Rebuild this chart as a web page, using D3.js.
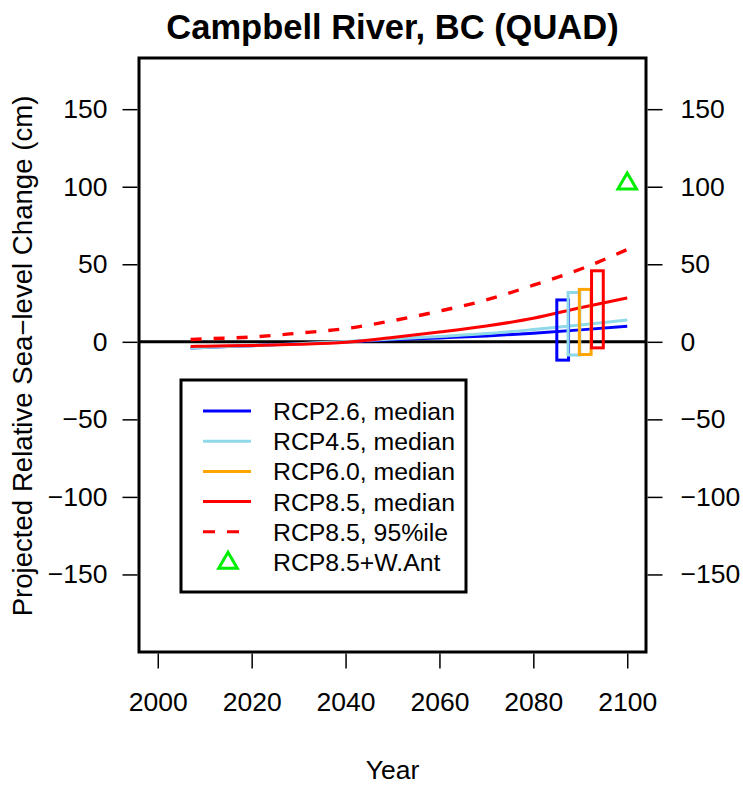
<!DOCTYPE html>
<html>
<head>
<meta charset="utf-8">
<script src="https://cdn.jsdelivr.net/npm/d3@7"></script>
<style>
  html, body { margin: 0; padding: 0; background: #fff; }
  svg { display: block; }
  text { font-family: "Liberation Sans", Arial, Helvetica, sans-serif; fill: #000; }
</style>
</head>
<body>
<script>
// ---- data ----
const title = "Campbell River, BC (QUAD)";
const xLabel = "Year";
const yLabel = "Projected Relative Sea\u2212level Change (cm)";
const xTicks = [2000, 2020, 2040, 2060, 2080, 2100];
const yTicks = [-150, -100, -50, 0, 50, 100, 150];
const years    = [2007, 2010, 2020, 2030, 2040, 2050, 2060, 2070, 2080, 2090, 2100];
const rcp26    = [-4.0, -3.6, -2.5, -1.3, 0.0, 1.3, 2.5, 3.8, 5.6, 7.7, 10.0];
const rcp45    = [-4.0, -3.6, -2.6, -1.2, 0.2, 1.8, 3.5, 5.3, 7.9, 10.8, 14.0];
const rcp85    = [-3.0, -2.8, -2.4, -1.6, -0.3, 2.8, 6.3, 10.2, 15.2, 22.0, 28.3];
const rcp85p95 = [1.5, 1.9, 3.1, 5.6, 8.5, 13.6, 19.8, 27.0, 36.5, 46.8, 59.5];
// 2100 range boxes
const boxScen  = ["RCP2.6", "RCP4.5", "RCP6.0", "RCP8.5"];
const boxX0    = [2085.0, 2087.4, 2089.8, 2092.4];
const boxX1    = [2087.5, 2089.9, 2092.3, 2094.9];
const boxLow   = [-11.8, -8.5, -8.2, -3.9];
const boxHigh  = [27.0, 31.8, 33.8, 45.8];
const wantYear = [2100];
const wantVal  = [102];
const legendLabels = ["RCP2.6, median", "RCP4.5, median", "RCP6.0, median", "RCP8.5, median", "RCP8.5, 95%ile", "RCP8.5+W.Ant"];
const colors = {"RCP2.6": "#0000FF", "RCP4.5": "#8FD9E9", "RCP6.0": "#FFA500", "RCP8.5": "#FF0000", "WAnt": "#00EE00"};

// ---- layout ----
const W = 743, H = 785;
const L = 139, R = 646, T = 58, B = 652;
const svg = d3.select("body").append("svg").attr("width", W).attr("height", H);

const x = d3.scaleLinear().domain([1996, 2104]).range([L, R]);
const y = d3.scaleLinear().domain([-200, 183]).range([B, T]);

// title
svg.append("text").attr("x", (L + R) / 2).attr("y", 39).attr("text-anchor", "middle")
  .style("font-size", "34.5px").style("font-weight", "bold").text(title);

// clip
svg.append("clipPath").attr("id", "clip").append("rect")
  .attr("x", L).attr("y", T).attr("width", R - L).attr("height", B - T);
const plot = svg.append("g").attr("clip-path", "url(#clip)");

// zero line
plot.append("line").attr("x1", L).attr("x2", R).attr("y1", y(0)).attr("y2", y(0))
  .attr("stroke", "#000").attr("stroke-width", 3);

const line = d3.line().x(d => x(d[0])).y(d => y(d[1])).curve(d3.curveMonotoneX);
function series(vals) { return years.map((yr, i) => [yr, vals[i]]); }

plot.append("path").attr("d", line(series(rcp26))).attr("fill", "none")
  .attr("stroke", colors["RCP2.6"]).attr("stroke-width", 3);
plot.append("path").attr("d", line(series(rcp45))).attr("fill", "none")
  .attr("stroke", colors["RCP4.5"]).attr("stroke-width", 3);
plot.append("path").attr("d", line(series(rcp85))).attr("fill", "none")
  .attr("stroke", colors["RCP8.5"]).attr("stroke-width", 3);
plot.append("path").attr("d", line(series(rcp85p95))).attr("fill", "none")
  .attr("stroke", colors["RCP8.5"]).attr("stroke-width", 3.4).attr("stroke-dasharray", "11,12");

// boxes
boxScen.forEach((s, i) => {
  plot.append("rect")
    .attr("x", x(boxX0[i])).attr("width", x(boxX1[i]) - x(boxX0[i]))
    .attr("y", y(boxHigh[i])).attr("height", y(boxLow[i]) - y(boxHigh[i]))
    .attr("fill", "none").attr("stroke", colors[s]).attr("stroke-width", 3);
});

// triangle
const tri = d3.symbol().type(d3.symbolTriangle).size(150);
plot.append("path").attr("d", tri())
  .attr("transform", `translate(${x(wantYear[0])},${y(wantVal[0])})`)
  .attr("fill", "none").attr("stroke", colors.WAnt).attr("stroke-width", 3);

// frame
svg.append("rect").attr("x", L).attr("y", T).attr("width", R - L).attr("height", B - T)
  .attr("fill", "none").attr("stroke", "#000").attr("stroke-width", 3);

// axes
const fmt = d => d < 0 ? "\u2212" + Math.abs(d) : String(d);
const axL = svg.append("g").attr("transform", `translate(${L - 1.5},0)`)
  .call(d3.axisLeft(y).tickValues(yTicks).tickSize(15).tickPadding(15).tickFormat(fmt));
const axR = svg.append("g").attr("transform", `translate(${R + 1.5},0)`)
  .call(d3.axisRight(y).tickValues(yTicks).tickSize(15).tickPadding(18).tickFormat(fmt));
const axB = svg.append("g").attr("transform", `translate(0,${B + 1.5})`)
  .call(d3.axisBottom(x).tickValues(xTicks).tickSize(15).tickPadding(24).tickFormat(d3.format("d")));
[axL, axR, axB].forEach(g => {
  g.select(".domain").remove();
  g.selectAll(".tick line").attr("stroke", "#000").attr("stroke-width", 1.5);
  g.selectAll(".tick text").style("font-size", "26.5px").attr("font-family", null);
});

// axis labels
svg.append("text").attr("x", (L + R) / 2).attr("y", 779).attr("text-anchor", "middle")
  .style("font-size", "26.5px").text(xLabel);
svg.append("text").attr("transform", `translate(32,${(T + B) / 2 + 1}) rotate(-90)`)
  .attr("text-anchor", "middle").style("font-size", "27.6px").text(yLabel);

// legend
const lg = svg.append("g");
lg.append("rect").attr("x", 181).attr("y", 380).attr("width", 285).attr("height", 212)
  .attr("fill", "#fff").attr("stroke", "#000").attr("stroke-width", 3);
const rowY = i => 411 + i * 30.2;
const legendKeys = ["RCP2.6", "RCP4.5", "RCP6.0", "RCP8.5", "RCP8.5", "WAnt"];
legendLabels.forEach((lab, i) => {
  const yy = rowY(i);
  if (i < 5) {
    const ln = lg.append("line").attr("x1", 203).attr("x2", 251).attr("y1", yy).attr("y2", yy)
      .attr("stroke", colors[legendKeys[i]]).attr("stroke-width", 3);
    if (i === 4) ln.attr("stroke-dasharray", "12,12").attr("x2", 239);
  } else {
    lg.append("path").attr("d", tri()).attr("transform", `translate(228,${yy + 1})`)
      .attr("fill", "none").attr("stroke", colors.WAnt).attr("stroke-width", 3);
  }
  lg.append("text").attr("x", 273).attr("y", yy + 9).style("font-size", "24.8px").text(lab);
});
</script>
</body>
</html>
